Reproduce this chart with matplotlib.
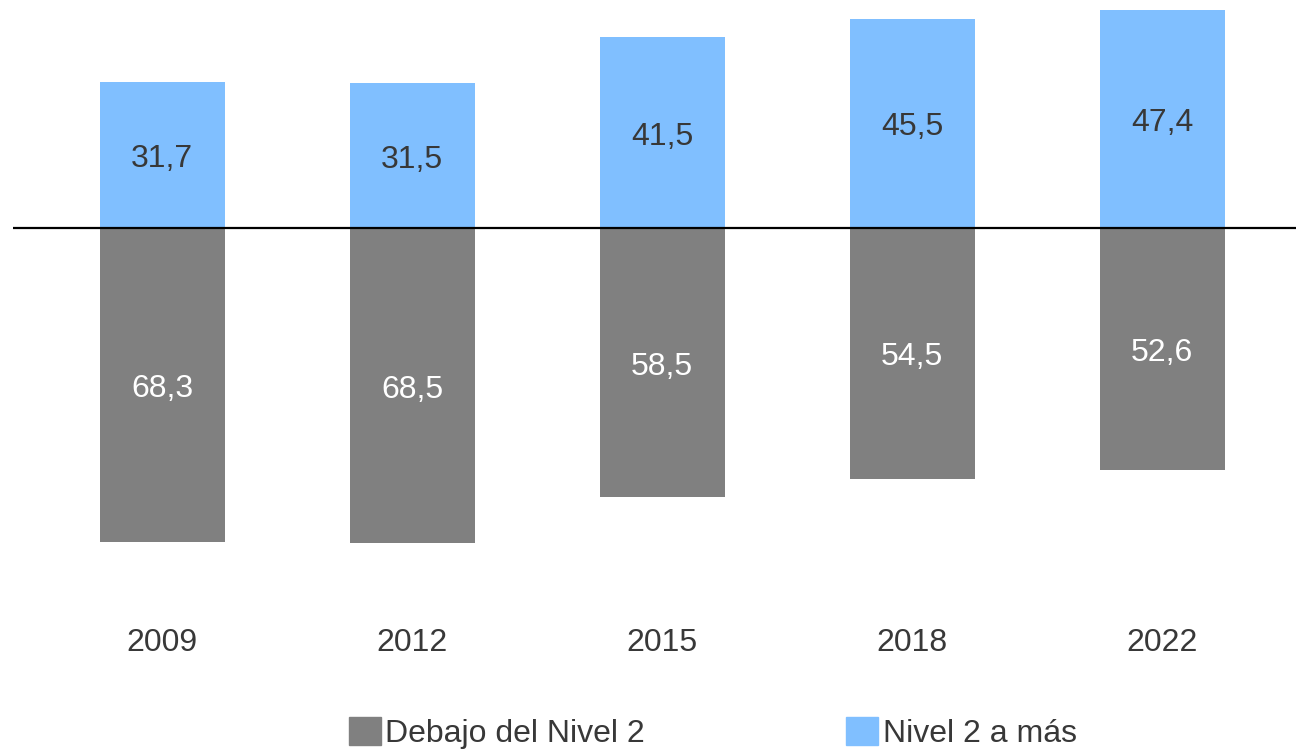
import matplotlib
matplotlib.use('Agg')
import matplotlib.pyplot as plt
from matplotlib.patches import Patch

plt.rcParams['font.family'] = ['Liberation Sans', 'DejaVu Sans']

years = ['2009', '2012', '2015', '2018', '2022']
debajo = [68.3, 68.5, 58.5, 54.5, 52.6]
nivel2 = [31.7, 31.5, 41.5, 45.5, 47.4]

gray = '#808080'
blue = '#80bfff'
txt = '#383838'

fig = plt.figure(figsize=(12.96, 7.52), dpi=100)
ax = fig.add_axes([13 / 1296, 1 - 600 / 752, 1 - 13 / 1296, 600 / 752])

x = list(range(len(years)))
neg = [-v for v in debajo]
ax.bar(x, neg, width=0.5, color=gray)
ax.bar(x, nivel2, width=0.5, color=blue)
ax.axhline(0, color='black', lw=1.6)

# small downward nudge so the digits sit visually centred like the original
nudge = 0.9
for i in x:
    ax.text(i, nivel2[i] / 2 - nudge, f'{nivel2[i]:.1f}'.replace('.', ','), ha='center', va='center',
            fontsize=23, color=txt)
    ax.text(i, -debajo[i] / 2 - nudge, f'{debajo[i]:.1f}'.replace('.', ','), ha='center', va='center',
            fontsize=23, color='white')

ax.set_xlim(-0.596, 4.536)
ax.set_ylim(-(600 - 228) / 4.6, 228 / 4.6)
ax.set_xticks(x)
ax.set_xticklabels(years, fontsize=23, color=txt)
ax.tick_params(axis='x', length=0, pad=20)
ax.set_yticks([])
for s in ax.spines.values():
    s.set_visible(False)

handles = [Patch(color=gray, label='Debajo del Nivel 2'), Patch(color=blue, label='Nivel 2 a más')]
leg = fig.legend(handles=handles, loc='center', bbox_to_anchor=(713 / 1296, 1 - 733 / 752), ncol=2,
                 frameon=False, fontsize=23, handlelength=1.0, handleheight=1.0,
                 handletextpad=0.15, columnspacing=6.3, borderpad=0)
for t in leg.get_texts():
    t.set_color(txt)

fig.savefig('out.png', dpi=100)
